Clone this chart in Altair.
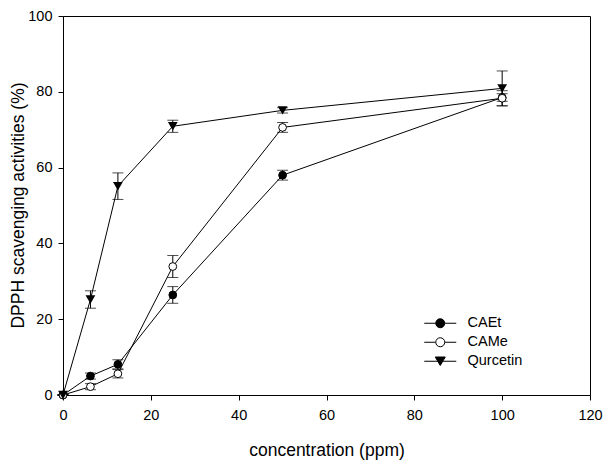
import altair as alt
import pandas as pd

conc = [0, 6.25, 12.5, 25, 50, 100]
series = ["CAEt", "CAMe", "Qurcetin"]
caet = [0, 5.0, 8.1, 26.4, 58.0, 78.5]
caet_err = [0, 0.8, 1.2, 2.2, 1.3, 1.0]
came = [0, 2.2, 5.6, 33.9, 70.6, 78.3]
came_err = [0, 0.8, 1.1, 2.9, 1.3, 2.0]
qur = [0, 25.2, 55.1, 70.9, 75.1, 80.9]
qur_err = [0, 2.3, 3.5, 1.6, 0.7, 4.6]

x_ticks = [0, 20, 40, 60, 80, 100, 120]
y_ticks = [0, 20, 40, 60, 80, 100]

rows = []
for name, vals, errs in zip(series, [caet, came, qur], [caet_err, came_err, qur_err]):
    for c, v, e in zip(conc, vals, errs):
        rows.append({"series": name, "conc": c, "val": v, "lo": v - e, "hi": v + e})
df = pd.DataFrame(rows)

FONT = "Liberation Sans"

x_enc = alt.X(
    "conc:Q",
    scale=alt.Scale(domain=[0, 120], nice=False),
    axis=alt.Axis(
        values=x_ticks, title="concentration (ppm)", titleY=60,
        titleBaseline="alphabetic", labelPadding=8, labelFlush=False,
    ),
)
y_enc = alt.Y(
    "val:Q",
    scale=alt.Scale(domain=[0, 100], nice=False),
    axis=alt.Axis(
        values=y_ticks, title="DPPH scavenging activities (%)",
        titleX=-40, titleY=189, titleBaseline="alphabetic", labelPadding=6,
        labelFlush=False,
    ),
)

base = alt.Chart(df)

lines = base.mark_line(color="black", strokeWidth=1).encode(
    x=x_enc, y=y_enc, detail="series:N", order="conc:Q"
)

err_rule = base.mark_rule(color="black", strokeWidth=1).encode(
    x="conc:Q", y="lo:Q", y2="hi:Q"
)
cap_hi = base.mark_tick(color="black", size=11, thickness=1, orient="horizontal").encode(
    x="conc:Q", y="hi:Q"
)
cap_lo = base.mark_tick(color="black", size=11, thickness=1, orient="horizontal").encode(
    x="conc:Q", y="lo:Q"
)

pts_circle = base.transform_filter(alt.datum.series != "Qurcetin").mark_point(
    filled=True, stroke="black", strokeWidth=1, size=60, shape="circle", opacity=1
).encode(
    x="conc:Q", y="val:Q",
    fill=alt.Fill("series:N", scale=alt.Scale(domain=series, range=["black", "white", "black"]), legend=None),
)
pts_tri = base.transform_filter(alt.datum.series == "Qurcetin").mark_point(
    filled=True, color="black", size=95, shape="triangle-down", opacity=1
).encode(x="conc:Q", y="val:Q")

# legend glyphs: line through marker (units = sqrt(symbolSize)/2 = 5 px)
circ = "M-3.2,0L-0.9,0M0.9,0L3.2,0M-0.9,0A0.9,0.9,0,1,0,0.9,0A0.9,0.9,0,1,0,-0.9,0Z"
circ2 = "M-3.2,0L-0.95,0M0.95,0L3.2,0M-0.9,0A0.9,0.9,0,1,0,0.9,0A0.9,0.9,0,1,0,-0.9,0Z"
tri = "M-3.2,0L3.2,0M-1.0,-0.85L1.0,-0.85L0,0.85Z"

leg = alt.Legend(
    title=None, orient="none", legendX=370, legendY=300,
    symbolSize=100, symbolStrokeColor="black", symbolStrokeWidth=1,
    labelFont=FONT, labelFontSize=14.5, labelColor="black", labelOffset=20,
    rowPadding=4,
)
legend_layer = base.transform_filter(alt.datum.conc == 0).mark_point(
    filled=False, strokeWidth=1, size=0, opacity=1
).encode(
    x="conc:Q", y="val:Q",
    shape=alt.Shape("series:N", scale=alt.Scale(domain=series, range=[circ, circ2, tri]), legend=leg),
    fill=alt.Fill("series:N", scale=alt.Scale(domain=series, range=["black", "white", "black"]), legend=leg),
    stroke=alt.Stroke("series:N", scale=alt.Scale(domain=series, range=["black", "black", "black"]), legend=leg),
)

chart = (
    alt.layer(lines, err_rule, cap_hi, cap_lo, pts_circle, pts_tri, legend_layer)
    .resolve_scale(fill="independent", shape="independent", stroke="independent")
    .properties(
        width=527, height=379,
        autosize=alt.AutoSizeParams(type="none"),
        padding={"left": 63, "top": 16, "right": 13, "bottom": 65},
        background="white",
    )
    .configure_view(stroke="black", strokeWidth=1)
    .configure_axis(
        grid=False, domainColor="black", domainWidth=1, tickColor="black",
        tickSize=5, tickWidth=1, labelFont=FONT, labelFontSize=14.5,
        labelColor="black", titleFont=FONT, titleFontSize=17.5, titleColor="black",
        titleFontWeight="normal",
    )
)

chart.save("out.html", embed_options={"renderer": "svg", "actions": False})
